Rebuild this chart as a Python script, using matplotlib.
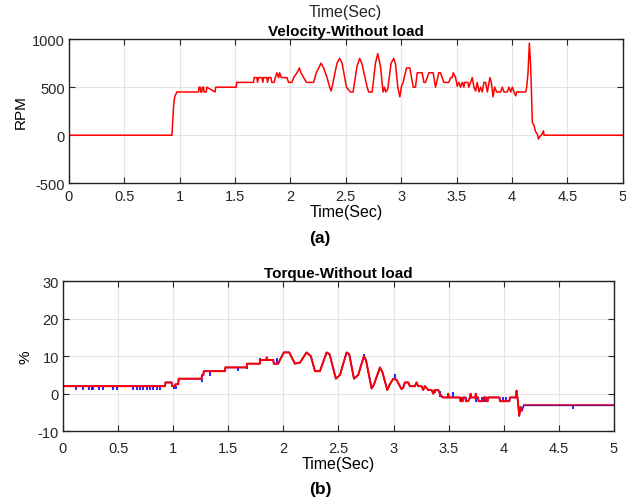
import numpy as np
import matplotlib
matplotlib.use('Agg')
import matplotlib.pyplot as plt

plt.rcParams['font.family'] = ['Liberation Sans', 'DejaVu Sans']
plt.rcParams['axes.unicode_minus'] = False

# velocity trace (time in s, speed in RPM)
vel_t = [0.0, 0.93, 0.945, 0.955, 0.975, 1.17, 1.175, 1.185, 1.19, 1.20, 1.205, 1.215,
         1.22, 1.24, 1.245, 1.32, 1.325, 1.51, 1.515, 1.667, 1.672, 1.697, 1.703, 1.712,
         1.742, 1.751, 1.757, 1.787, 1.793, 1.802, 1.823, 1.832, 1.854, 1.863, 1.878,
         1.893, 1.902, 1.917, 1.968, 1.983, 2.013, 2.028, 2.059, 2.080, 2.095, 2.119,
         2.143, 2.149, 2.209, 2.233, 2.254, 2.276, 2.300, 2.330, 2.354, 2.366, 2.375,
         2.420, 2.444, 2.466, 2.505, 2.541, 2.565, 2.601, 2.625, 2.646, 2.692, 2.706,
         2.737, 2.767, 2.788, 2.812, 2.836, 2.848, 2.860, 2.878, 2.908, 2.932, 2.948,
         2.969, 2.987, 3.002, 3.017, 3.047, 3.077, 3.108, 3.128, 3.144, 3.189, 3.204,
         3.219, 3.249, 3.288, 3.309, 3.339, 3.354, 3.384, 3.430, 3.445, 3.460, 3.469,
         3.490, 3.505, 3.520, 3.535, 3.551, 3.565, 3.571, 3.601, 3.610, 3.626, 3.641,
         3.656, 3.671, 3.686, 3.701, 3.716, 3.731, 3.746, 3.761, 3.777, 3.800, 3.813,
         3.828, 3.843, 3.861, 3.897, 3.912, 3.927, 3.957, 3.972, 3.987, 4.003, 4.017,
         4.033, 4.042, 4.123, 4.132, 4.144, 4.156, 4.168, 4.183, 4.198, 4.213, 4.229,
         4.238, 4.252, 4.265, 4.283, 4.289, 5.0]
vel_v = [0, 0, 300, 400, 450, 450, 500, 500, 450, 450, 500, 500,
         450, 450, 500, 450, 500, 500, 550, 550, 600, 600, 550, 600,
         600, 550, 600, 600, 550, 600, 600, 550, 550, 600, 650,
         600, 650, 600, 600, 550, 550, 600, 650, 700, 650, 600,
         550, 550, 550, 650, 700, 750, 700, 600, 500, 460, 500,
         750, 800, 750, 500, 450, 450, 720, 800, 740, 500, 450,
         450, 750, 850, 720, 450, 500, 450, 480, 750, 800, 740,
         500, 400, 510, 550, 700, 700, 500, 500, 650, 650, 550,
         550, 650, 650, 500, 650, 650, 550, 550, 600, 600, 650,
         600, 510, 550, 500, 550, 500, 550, 550, 500, 550, 600,
         500, 460, 550, 450, 500, 450, 550, 550, 450, 600, 550,
         400, 500, 450, 450, 500, 450, 450, 500, 450, 500, 450,
         410, 450, 450, 500, 650, 960, 720, 135, 100, 35, 10,
         -40, -10, 0, 45, 0, 0]

# torque trace (time in s, torque in %)
trq_t = [0.0, 0.926, 0.93, 0.986, 0.99, 1.016, 1.02, 1.046, 1.05, 1.122, 1.126, 1.258,
         1.262, 1.274, 1.278, 1.319, 1.323, 1.470, 1.474, 1.667, 1.671, 1.788, 1.792,
         1.845, 1.85, 1.855, 1.909, 1.913, 1.954, 1.969, 2.005, 2.054, 2.105, 2.151,
         2.211, 2.250, 2.287, 2.332, 2.393, 2.420, 2.477, 2.514, 2.574, 2.598, 2.641,
         2.680, 2.731, 2.750, 2.801, 2.822, 2.877, 2.901, 2.943, 2.967, 2.998, 3.028,
         3.058, 3.073, 3.088, 3.103, 3.134, 3.149, 3.194, 3.209, 3.224, 3.255, 3.270,
         3.285, 3.315, 3.345, 3.361, 3.376, 3.406, 3.421, 3.445, 3.493, 3.497, 3.501,
         3.603, 3.608, 3.628, 3.633, 3.652, 3.657, 3.678, 3.695, 3.700, 3.705, 3.742,
         3.747, 3.752, 3.768, 3.772, 3.814, 3.818, 3.840, 3.844, 3.855, 3.859, 3.962,
         3.966, 4.052, 4.056, 4.111, 4.117, 4.129, 4.141, 4.153, 4.165, 4.183, 5.0]
trq_v = [2, 2, 3, 3, 2, 2, 2.5, 2.5, 4, 4, 4, 4,
         5, 5, 6, 6, 6, 6, 7, 7, 8, 8, 9,
         9, 9.7, 9, 9, 8, 8, 9, 11, 11, 8, 8.3,
         11, 10, 6, 6, 11, 10.5, 4, 5, 11, 10.5, 4,
         5, 10, 9, 1.4, 2.4, 7, 5.6, 1, 2.5, 4, 3.7,
         2, 1.2, 1.6, 3, 3, 2, 2, 3, 2, 2, 1,
         2, 1, 1, 0, 1, 1, 0, -1, -1, 0, -1,
         -1, -2, -2, -1, -1, -2, -2, -1, 0, -1, -1,
         0, -1, -1, -2, -2, -1, -1, -2, -2, -1, -1,
         -2, -2, -1, -1, 0.8, -2, -5.9, -3.5, -4.5, -3.1, -3.1]

# blue trace glitches: time, level they start from, level they reach
spk_t = [0.118, 0.184, 0.239, 0.260, 0.275, 0.330, 0.360, 0.457, 0.487, 0.638, 0.668,
         0.699, 0.729, 0.759, 0.789, 0.820, 0.850, 0.880, 1.005, 1.025, 1.26, 1.33,
         1.59, 1.67, 1.79, 1.94, 2.73, 3.01, 3.36, 3.38, 3.42, 3.54, 3.62, 3.66,
         3.75, 3.80, 3.83, 3.99, 4.02, 4.63]
spk_base = [2, 2, 2, 2, 2, 2, 2, 2, 2, 2, 2,
            2, 2, 2, 2, 2, 2, 2, 2, 2, 4, 6,
            7, 7, 8, 8, 9, 4, 1, 1, -1, -1, -1, -1,
            -1, -1, -1, -1, -1, -3.1]
spk_tip = [1.1, 1.1, 1.1, 1.1, 1.1, 1.1, 1.1, 1.1, 1.1, 1.1, 1.1,
           1.1, 1.1, 1.1, 1.1, 1.1, 1.1, 1.1, 1.2, 1.2, 3.2, 4.8,
           6.0, 6.6, 9.6, 9.4, 10.6, 5.2, -0.1, 0.2, 0.8, 0.4, -2.3, -2.3,
           -2.3, -2.3, -2.3, -2.3, -2.3, -4.2]

RED = '#ff0000'
BLUE = '#0000ff'
GRID = '#e4e4e4'
XTL = ['0', '0.5', '1', '1.5', '2', '2.5', '3', '3.5', '4', '4.5', '5']

fig = plt.figure(figsize=(6.26, 5.02), dpi=100)
ax1 = fig.add_axes([0.110, 0.633, 0.885, 0.287])
ax2 = fig.add_axes([0.1006, 0.139, 0.880, 0.299])


def style_axis(ax, pad):
    ax.grid(True, color=GRID, linewidth=0.8)
    ax.set_axisbelow(True)
    ax.tick_params(direction='in', top=True, right=True, length=4, width=0.8,
                   labelsize=10.5, colors='#262626', pad=3)
    ax.tick_params(axis='x', pad=pad)
    for sp in ax.spines.values():
        sp.set_linewidth(1.0)
        sp.set_color('#222222')


# velocity
ax1.plot(vel_t, vel_v, color=RED, linewidth=1.1)
ax1.set_xlim(0, 5)
ax1.set_ylim(-500, 1000)
ax1.set_xticks(np.arange(0, 5.01, 0.5))
ax1.set_xticklabels(XTL)
ax1.set_yticks([-500, 0, 500, 1000])
style_axis(ax1, 4)
ax1.set_title('Velocity-Without load', fontsize=11, fontweight='bold', pad=3)
ax1.set_ylabel('RPM', fontsize=11, labelpad=3)
ax1.set_xlabel('Time(Sec)', fontsize=11.5, labelpad=1)

# torque
trq_t = np.array(trq_t)
trq_v = np.array(trq_v)
ax2.plot(trq_t, trq_v, color=BLUE, linewidth=1.1)
ax2.vlines(spk_t, spk_base, spk_tip, color=BLUE, linewidth=1.2)
tail = trq_t >= 4.183
ax2.plot(trq_t[~tail], trq_v[~tail], color=RED, linewidth=1.4)
ax2.plot(trq_t[tail], trq_v[tail], color=RED, linewidth=1.6, alpha=0.6)
ax2.set_xlim(0, 5)
ax2.set_ylim(-10, 30)
ax2.set_xticks(np.arange(0, 5.01, 0.5))
ax2.set_xticklabels(XTL)
ax2.set_yticks([-10, 0, 10, 20, 30])
style_axis(ax2, 7)
ax2.set_title('Torque-Without load', fontsize=11, fontweight='bold', pad=3)
ax2.set_ylabel('%', fontsize=11, labelpad=4)
ax2.set_xlabel('Time(Sec)', fontsize=11.5, labelpad=1)

# loose labels around the panels
fig.text(345 / 626, 1 - 12 / 502, 'Time(Sec)', ha='center', va='center', fontsize=11.5,
         color='#262626')
fig.text(320 / 626, 1 - 239 / 502, '(a)', ha='center', va='center', fontsize=12.5,
         fontweight='bold')
fig.text(320 / 626, 1 - 490 / 502, '(b)', ha='center', va='center', fontsize=12.5,
         fontweight='bold')

fig.savefig('out.png', dpi=100)
